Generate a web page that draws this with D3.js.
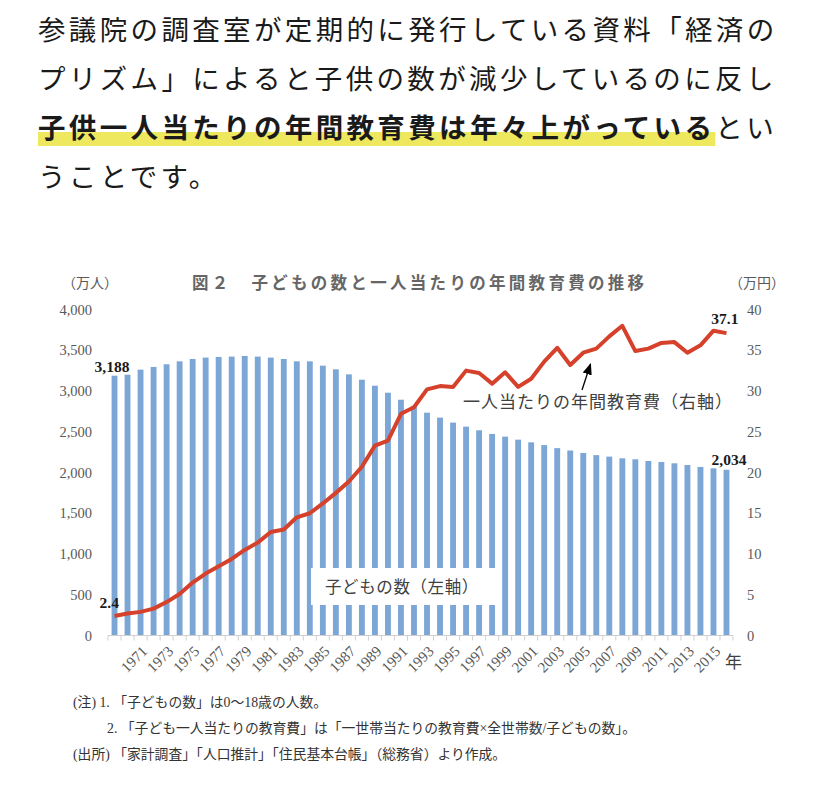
<!DOCTYPE html>
<html>
<head>
<meta charset="utf-8">
<title>子どもの数と一人当たりの年間教育費の推移</title>
<script src="https://cdn.jsdelivr.net/npm/d3@7"></script>
<style>
  body { margin: 0; background: #fff; }
  svg text { font-family: "Liberation Serif", "Noto Sans CJK JP", serif; }
  .jp { font-family: "Noto Sans CJK JP", sans-serif; }
</style>
</head>
<body>
<div id="graph"></div>
<script>
// 年（カテゴリ）
const years = [1969, 1970, 1971, 1972, 1973, 1974, 1975, 1976, 1977, 1978, 1979, 1980,
  1981, 1982, 1983, 1984, 1985, 1986, 1987, 1988, 1989, 1990, 1991, 1992, 1993, 1994,
  1995, 1996, 1997, 1998, 1999, 2000, 2001, 2002, 2003, 2004, 2005, 2006, 2007, 2008,
  2009, 2010, 2011, 2012, 2013, 2014, 2015, 2016];

// 子どもの数（万人, 左軸）
const children = [3188, 3200, 3262, 3295, 3328, 3364, 3393, 3410, 3418, 3422, 3430, 3422,
  3410, 3393, 3364, 3364, 3311, 3266, 3204, 3139, 3065, 2979, 2893, 2818, 2734, 2673,
  2612, 2563, 2518, 2473, 2440, 2403, 2370, 2336, 2299, 2270, 2240, 2213, 2195, 2174,
  2162, 2141, 2129, 2113, 2092, 2068, 2051, 2034];

// 一人当たりの年間教育費（万円, 右軸）
const education = [2.4, 2.7, 2.9, 3.3, 4.1, 5.1, 6.5, 7.6, 8.5, 9.4, 10.5, 11.4,
  12.7, 13.0, 14.5, 15.0, 16.2, 17.5, 18.9, 20.7, 23.3, 23.9, 27.2, 28.0, 30.2, 30.6,
  30.5, 32.5, 32.2, 30.9, 32.3, 30.5, 31.5, 33.6, 35.3, 33.2, 34.7, 35.2, 36.7, 38.0,
  34.9, 35.2, 35.9, 36.0, 34.7, 35.6, 37.4, 37.1];

const leftTicks = [0, 500, 1000, 1500, 2000, 2500, 3000, 3500, 4000];
const rightTicks = [0, 5, 10, 15, 20, 25, 30, 35, 40];
const labelYears = years.filter(y => y >= 1971 && y % 2 === 1);

const intro = [
  [{t: "参議院の調査室が定期的に発行している資料「経済の"}],
  [{t: "プリズム」によると子供の数が減少しているのに反し"}],
  [{t: "子供一人当たりの年間教育費は年々上がっている", b: true}, {t: "とい"}],
  [{t: "うことです。"}]
];
const notes = [
  {x: 73, t: "(注)  1. 「子どもの数」は0〜18歳の人数。"},
  {x: 107, t: "2. 「子ども一人当たりの教育費」は「一世帯当たりの教育費×全世帯数/子どもの数」。"},
  {x: 73, t: "(出所) 「家計調査」「人口推計」「住民基本台帳」（総務省）より作成。"}
];

const width = 828, height = 788;
const svg = d3.select("#graph").append("svg")
    .attr("width", width).attr("height", height);

// 本文
const lineY = [40, 89, 138, 187];
const hl = svg.append("rect")
    .attr("fill", "#eee85e");
intro.forEach((parts, i) => {
  const t = svg.append("text")
      .attr("class", "jp")
      .attr("x", 38).attr("y", lineY[i])
      .attr("font-size", 27.5)
      .attr("letter-spacing", 3.35)
      .attr("fill", "#1a1a1a");
  parts.forEach(p => {
    t.append("tspan")
        .attr("font-weight", p.b ? 700 : 400)
        .text(p.t);
  });
  if (i === 2) {
    const n = t.select("tspan").node();
    const w = n.getComputedTextLength();
    hl.attr("x", 38).attr("y", lineY[i] - 6).attr("width", w).attr("height", 14);
  }
});

// グラフ
const y0 = 635.5, y1 = 309.5;
const x = d3.scaleBand().domain(years).range([108, 733]).paddingInner(0.55).paddingOuter(0.275);
const yL = d3.scaleLinear().domain([0, 4000]).range([y0, y1]);
const yR = d3.scaleLinear().domain([0, 40]).range([y0, y1]);
const cx = d => x(d) + x.bandwidth() / 2;

svg.append("g")
    .attr("fill", "#7ca6d6")
  .selectAll("rect")
  .data(years)
  .join("rect")
    .attr("x", d => x(d))
    .attr("width", x.bandwidth())
    .attr("y", (d, i) => yL(children[i]))
    .attr("height", (d, i) => y0 - yL(children[i]));

// x 軸
svg.append("line")
    .attr("x1", 108).attr("x2", 733).attr("y1", y0).attr("y2", y0)
    .attr("stroke", "#d0d0d0").attr("stroke-width", 1);
svg.append("g")
    .attr("stroke", "#cfcfcf")
  .selectAll("line")
  .data(years.concat([null]))
  .join("line")
    .attr("x1", (d, i) => 108 + x.step() * i)
    .attr("x2", (d, i) => 108 + x.step() * i)
    .attr("y1", y0).attr("y2", y0 + 5);
svg.append("g")
  .selectAll("text")
  .data(labelYears)
  .join("text")
    .attr("transform", d => `translate(${cx(d) + 4},${y0 + 13}) rotate(-45)`)
    .attr("text-anchor", "end")
    .attr("dy", "0.35em")
    .attr("font-size", 15)
    .attr("fill", "#595959")
    .text(d => d);

// 左軸・右軸
const axL = svg.append("g")
    .attr("transform", "translate(92,0)")
    .call(d3.axisLeft(yL).tickValues(leftTicks).tickSize(0).tickPadding(0).tickFormat(d3.format(",")));
const axR = svg.append("g")
    .attr("transform", "translate(747,0)")
    .call(d3.axisRight(yR).tickValues(rightTicks).tickSize(0).tickPadding(0));
[axL, axR].forEach(a => {
  a.select(".domain").remove();
  a.selectAll("text")
      .attr("font-family", "Liberation Serif, serif")
      .attr("font-size", 14.5)
      .attr("fill", "#595959");
});

// 子どもの数 ラベル枠
svg.append("rect")
    .attr("x", 311).attr("y", 568).attr("width", 186).attr("height", 37)
    .attr("fill", "#fff");
svg.append("text")
    .attr("class", "jp")
    .attr("x", 325).attr("y", 593)
    .attr("font-size", 16.5)
    .attr("letter-spacing", 0.6)
    .attr("fill", "#404040")
    .text("子どもの数（左軸）");

// 教育費の折れ線
svg.append("path")
    .datum(years)
    .attr("fill", "none")
    .attr("stroke", "#d5412b")
    .attr("stroke-width", 4)
    .attr("stroke-linejoin", "round")
    .attr("d", d3.line().x(d => cx(d)).y((d, i) => yR(education[i])));

// 矢印と注釈
svg.append("defs").append("marker")
    .attr("id", "ah")
    .attr("viewBox", "0 0 10 10")
    .attr("refX", 9).attr("refY", 5)
    .attr("markerWidth", 9).attr("markerHeight", 9)
    .attr("orient", "auto-start-reverse")
  .append("path")
    .attr("d", "M0,1 L10,5 L0,9 z")
    .attr("fill", "#000");
svg.append("line")
    .attr("x1", 582).attr("y1", 390).attr("x2", 590.5).attr("y2", 364)
    .attr("stroke", "#000").attr("stroke-width", 1.3)
    .attr("marker-end", "url(#ah)");
svg.append("text")
    .attr("class", "jp")
    .attr("x", 463).attr("y", 408)
    .attr("font-size", 17)
    .attr("letter-spacing", 1.0)
    .attr("fill", "#404040")
    .text("一人当たりの年間教育費（右軸）");

// データラベル
const first = years[0], last = years[years.length - 1];
const dl = svg.append("g")
    .attr("font-size", 15.5)
    .attr("font-weight", 700)
    .attr("fill", "#1a1a1a");
dl.append("text").attr("x", cx(first) - 20).attr("y", yL(children[0]) - 4)
    .text(d3.format(",")(children[0]));
dl.append("text").attr("x", cx(last) + 20).attr("y", yL(children[children.length - 1]) - 5)
    .attr("text-anchor", "end")
    .text(d3.format(",")(children[children.length - 1]));
dl.append("text").attr("x", cx(first) - 15).attr("y", yR(education[0]) - 8)
    .text(education[0]);
dl.append("text").attr("x", cx(last) + 12).attr("y", yR(education[education.length - 1]) - 9)
    .attr("text-anchor", "end")
    .text(education[education.length - 1]);

// タイトル・単位
svg.append("text")
    .attr("class", "jp")
    .attr("x", 192).attr("y", 289)
    .attr("font-size", 16.5)
    .attr("font-weight", 700)
    .attr("letter-spacing", 3.3)
    .attr("fill", "#666")
    .text("図２　子どもの数と一人当たりの年間教育費の推移");
svg.append("text").attr("class", "jp")
    .attr("x", 62).attr("y", 288).attr("font-size", 14).attr("fill", "#595959")
    .text("（万人）");
svg.append("text").attr("class", "jp")
    .attr("x", 729).attr("y", 288).attr("font-size", 14).attr("fill", "#595959")
    .text("（万円）");
svg.append("text").attr("class", "jp")
    .attr("x", 725).attr("y", 668).attr("font-size", 17).attr("fill", "#404040")
    .text("年");

// 注記
svg.append("g")
    .attr("font-size", 13.8)
    .attr("fill", "#333")
  .selectAll("text")
  .data(notes)
  .join("text")
    .attr("x", d => d.x)
    .attr("y", (d, i) => 707 + i * 26)
    .text(d => d.t);
</script>
</body>
</html>
